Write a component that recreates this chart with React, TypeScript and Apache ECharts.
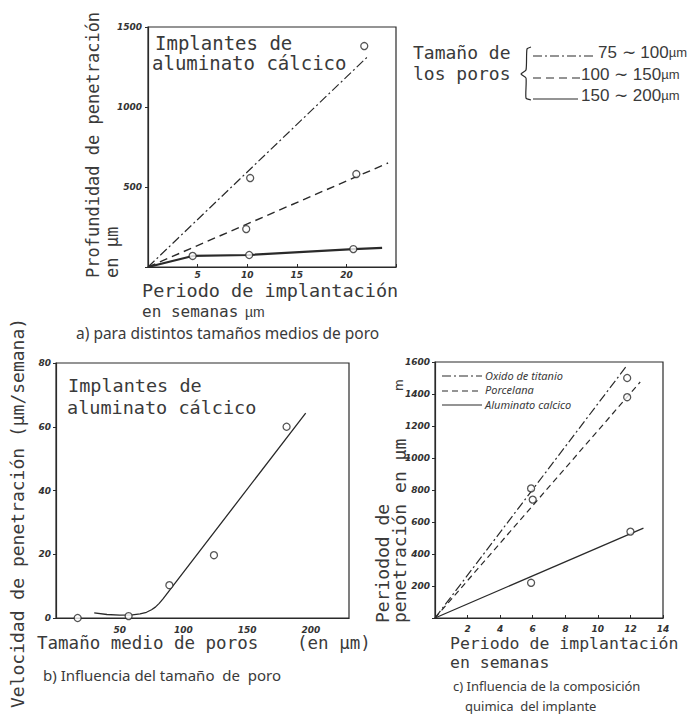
import React, { useEffect, useRef } from "react";
import * as echarts from "echarts";

// ---------- a) penetration depth vs implantation period ----------
const aLineDashDot: number[][] = [[0, 0], [22.1, 1312]];
const aLineDashed: number[][] = [[0, 0], [24.2, 650]];
const aLineSolid: number[][] = [[0, 0], [4.5, 69], [10.2, 75], [20.7, 112], [23.6, 119]];
const aPtsDashDot: number[][] = [[10.3, 556], [21.8, 1381]];
const aPtsDashed: number[][] = [[9.9, 237], [21.0, 581]];
const aPtsSolid: number[][] = [[4.5, 69], [10.2, 75], [20.7, 112]];
const aLegendLabels = ["75 ∼ 100", "100 ∼ 150", "150 ∼ 200"];

// ---------- b) penetration velocity vs pore size ----------
const bCurve: number[][] = [[30, 1.6], [40, 1.1], [50, 0.9], [60, 1.0], [66, 1.3], [71, 1.8], [75, 2.6], [78, 3.4], [81, 4.6], [84, 6.0], [196, 64.3]];
const bPoints: number[][] = [[17, 0], [57, 0.6], [89, 10.3], [124, 19.7], [181, 60]];

// ---------- c) chemical composition ----------
const cOxido: number[][] = [[0, 0], [11.8, 1580]];
const cPorcelana: number[][] = [[0, 0], [12.6, 1475]];
const cAluminato: number[][] = [[0, 0], [12.8, 562]];
const cOxidoPts: number[][] = [[5.9, 810], [11.8, 1500]];
const cPorcelanaPts: number[][] = [[6.0, 740], [11.8, 1380]];
const cAluminatoPts: number[][] = [[5.9, 220], [12.0, 540]];
const cLegendLabels = ["Oxido de titanio", "Porcelana", "Aluminato calcico"];

const INK = "#2a2a2a";
const TXT = "#3a3a3a";
const MONO = "DejaVu Sans Mono";
const HAND = "Noto Sans";
const DASHDOT = [9, 3, 2, 3];
const DASHED = [8, 5];

function axisLabelStyle(hide: (v: number) => boolean) {
  return {
    fontStyle: "italic",
    fontWeight: "bold",
    fontSize: 9,
    color: "#333",
    fontFamily: "DejaVu Sans",
    formatter: (v: number) => (hide(v) ? "" : String(v)),
  };
}

function lineSeries(data: number[][], idx: number, type: any, width = 1.2) {
  return {
    type: "line",
    xAxisIndex: idx,
    yAxisIndex: idx,
    data,
    symbol: "none",
    lineStyle: { color: INK, width, type },
    silent: true,
    z: 2,
  };
}

function pointSeries(data: number[][], idx: number) {
  return {
    type: "scatter",
    xAxisIndex: idx,
    yAxisIndex: idx,
    data,
    symbol: "circle",
    symbolSize: 7,
    itemStyle: { color: "#fff", borderColor: INK, borderWidth: 1.3 },
    silent: true,
    z: 5,
  };
}

function txt(text: string, x: number, y: number, size: number, family = MONO, extra: any = {}) {
  return {
    type: "text",
    x,
    y,
    rotation: extra.rotation || 0,
    style: {
      text,
      fontSize: size,
      fontFamily: family,
      fill: extra.fill || TXT,
      fontStyle: extra.fontStyle || "normal",
      textAlign: "left",
      textVerticalAlign: "middle",
      ...(extra.rich ? { rich: extra.rich } : {}),
    },
  };
}

function legLine(x1: number, x2: number, y: number, dash: any, width = 1.2) {
  return {
    type: "line",
    shape: { x1, y1: y, x2, y2: y },
    style: { stroke: INK, lineWidth: width, lineDash: dash },
  };
}

export default function App() {
  const ref = useRef<HTMLDivElement>(null);
  useEffect(() => {
    document.body.style.margin = "0";
    const chart = echarts.init(ref.current!, null, { renderer: "svg" });
    const axisLine = { lineStyle: { color: INK, width: 1.2 } };
    const rich = {
      n: { fontSize: 17, fontFamily: "Liberation Sans", fill: TXT, color: TXT },
      u: { fontSize: 13, fontFamily: "Liberation Sans", fill: TXT, color: TXT },
    };
    const option: any = {
      animation: false,
      backgroundColor: "#fff",
      grid: [
        { left: 148, top: 27, width: 248, height: 240, show: true, borderColor: INK, borderWidth: 1.2, backgroundColor: "transparent" },
        { left: 56, top: 363, width: 293, height: 255, show: true, borderColor: INK, borderWidth: 1.2, backgroundColor: "transparent" },
        { left: 435, top: 362, width: 228, height: 256, show: true, borderColor: INK, borderWidth: 1.2, backgroundColor: "transparent" },
      ],
      xAxis: [
        {
          gridIndex: 0, type: "value", min: 0, max: 25, interval: 5,
          axisLine, axisTick: { inside: true, length: 3, lineStyle: { color: INK } },
          axisLabel: { ...axisLabelStyle((v) => v === 0 || v % 5 !== 0 || v === 25), margin: 3 },
          splitLine: { show: false },
        },
        {
          gridIndex: 1, type: "value", min: 0, max: 230, interval: 50,
          axisLine, axisTick: { show: false },
          axisLabel: { ...axisLabelStyle((v) => v === 0 || v % 50 !== 0), margin: 7 },
          splitLine: { show: false },
        },
        {
          gridIndex: 2, type: "value", min: 0, max: 14, interval: 2,
          axisLine, axisTick: { inside: true, length: 3, lineStyle: { color: INK } },
          axisLabel: { ...axisLabelStyle((v) => v === 0), margin: 6 },
          splitLine: { show: false },
        },
      ],
      yAxis: [
        {
          gridIndex: 0, type: "value", min: 0, max: 1500, interval: 500,
          axisLine, axisTick: { length: 3, lineStyle: { color: INK } },
          axisLabel: { ...axisLabelStyle((v) => v === 0), margin: 6 },
          splitLine: { show: false },
        },
        {
          gridIndex: 1, type: "value", min: 0, max: 80, interval: 20,
          axisLine, axisTick: { length: 3, lineStyle: { color: INK } },
          axisLabel: { ...axisLabelStyle(() => false), margin: 5 },
          splitLine: { show: false },
        },
        {
          gridIndex: 2, type: "value", min: 0, max: 1600, interval: 200,
          axisLine, axisTick: { length: 3, lineStyle: { color: INK } },
          axisLabel: { ...axisLabelStyle((v) => v === 0), margin: 5 },
          splitLine: { show: false },
        },
      ],
      series: [
        lineSeries(aLineDashDot, 0, DASHDOT),
        lineSeries(aLineDashed, 0, DASHED, 1.4),
        lineSeries(aLineSolid, 0, "solid", 2.2),
        pointSeries(aPtsDashDot, 0),
        pointSeries(aPtsDashed, 0),
        pointSeries(aPtsSolid, 0),
        lineSeries(bCurve, 1, "solid", 1.3),
        pointSeries(bPoints, 1),
        lineSeries(cOxido, 2, DASHDOT),
        lineSeries(cPorcelana, 2, [6, 4]),
        lineSeries(cAluminato, 2, "solid", 1.3),
        pointSeries(cOxidoPts, 2),
        pointSeries(cPorcelanaPts, 2),
        pointSeries(cAluminatoPts, 2),
      ],
      graphic: [
        // ----- a -----
        txt("Implantes de", 155, 43, 19),
        txt("aluminato cálcico", 152, 63, 19),
        txt("Profundidad de penetración", 93, 278, 17, MONO, { rotation: Math.PI / 2 }),
        txt("en µm", 112, 278, 17, MONO, { rotation: Math.PI / 2 }),
        txt("Periodo de implantación", 142, 290, 18.5),
        txt("en semanas", 142, 311, 16),
        txt("µm", 245, 312, 14, "Liberation Sans"),
        txt("a) para distintos tamaños medios de poro", 76, 333, 15.5, HAND),
        // legend a
        txt("Tamaño de", 413, 52, 18),
        txt("los poros", 413, 73, 18),
        {
          type: "polyline",
          shape: { points: [[531, 47], [527, 49], [526, 70], [521, 74], [526, 78], [526, 98], [531, 100]], smooth: 0.2 },
          style: { stroke: INK, lineWidth: 1.2, fill: "none" },
        },
        legLine(533, 596, 56, DASHDOT),
        legLine(533, 580, 78, DASHED),
        legLine(533, 578, 99, null),
        txt(`{n|${aLegendLabels[0]}}{u|µm}`, 598, 52, 17, "Liberation Sans", { rich }),
        txt(`{n|${aLegendLabels[1]}}{u|µm}`, 581, 74, 17, "Liberation Sans", { rich }),
        txt(`{n|${aLegendLabels[2]}}{u|µm}`, 581, 95, 17, "Liberation Sans", { rich }),
        // ----- b -----
        txt("Implantes de", 68, 385, 18.5),
        txt("aluminato cálcico", 67, 407, 18.5),
        txt("Velocidad de penetración (µm/semana)", 17, 708, 18, MONO, { rotation: Math.PI / 2 }),
        txt("Tamaño medio de poros", 37, 643, 17.5),
        txt("(en µm)", 297, 643, 17.5),
        txt("b) Influencia del tamaño  de  poro", 43, 675, 15, HAND),
        // ----- c -----
        txt("Periodod de", 382, 623, 18, MONO, { rotation: Math.PI / 2 }),
        txt("penetración en µm", 399, 623, 18, MONO, { rotation: Math.PI / 2 }),
        txt("m", 399, 391, 12, "DejaVu Sans", { rotation: Math.PI / 2 }),
        txt("Periodo de implantación", 450, 643, 16.5),
        txt("en semanas", 450, 662, 16.5),
        txt("c) Influencia de la composición", 453, 686, 13, HAND),
        txt("quimica  del implante", 465, 706, 13, HAND),
        legLine(442, 482, 376, DASHDOT),
        legLine(442, 482, 391, [6, 4]),
        legLine(442, 482, 405, null),
        txt(cLegendLabels[0], 485, 375, 11, HAND, { fontStyle: "italic" }),
        txt(cLegendLabels[1], 485, 389.5, 11, HAND, { fontStyle: "italic" }),
        txt(cLegendLabels[2], 485, 404, 11, HAND, { fontStyle: "italic" }),
      ],
    };
    chart.setOption(option);
    return () => chart.dispose();
  }, []);
  return <div ref={ref} style={{ width: 699, height: 716 }} />;
}
